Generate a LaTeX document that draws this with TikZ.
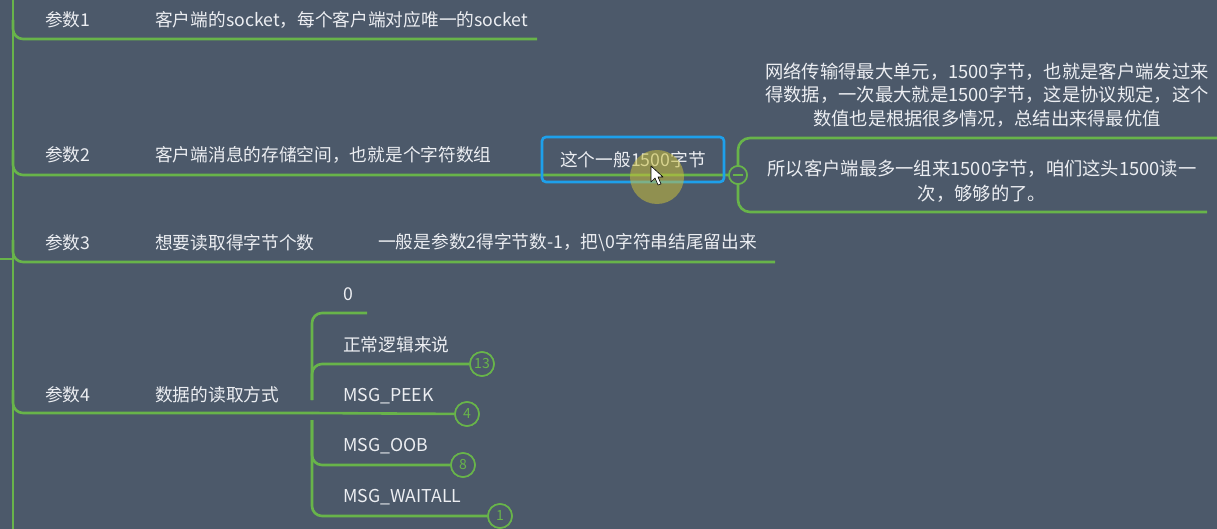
\documentclass[tikz,border=0pt]{standalone}
\usepackage{fontspec}
\setmainfont{Noto Sans CJK SC}
\definecolor{bg}{RGB}{76,89,106}
\definecolor{fg}{RGB}{236,238,242}
\definecolor{gr}{RGB}{104,180,74}
\definecolor{bl}{RGB}{30,160,235}
\definecolor{hl}{RGB}{200,190,60}
\tikzset{
  txt/.style={text=fg, font=\fontsize{17.7}{24}\selectfont, anchor=west, inner sep=0pt},
  br/.style={draw=gr, line width=2.6pt, rounded corners=10pt},
  num/.style={circle, draw=gr, line width=1.6pt, fill=bg, minimum size=24pt, inner sep=0pt, text=gr, font=\fontsize{14}{14}\selectfont},
  selbox/.style={draw=bl, line width=2.6pt, rounded corners=4pt, minimum width=182pt, minimum height=45pt, inner sep=0pt, text=fg, font=\fontsize{17.7}{24}\selectfont}
}
\begin{document}
\begin{tikzpicture}[x=1pt,y=-1pt]
\fill[bg] (0,0) rectangle (1217,529);
\useasboundingbox (0,0) rectangle (1217,529);

% root trunk
\coordinate (top) at (13,0);
\coordinate (bot) at (13,529);
\coordinate (stub) at (0,259);
\coordinate (stubend) at (13,259);
\draw[br] (top) -- (bot);
\draw[br] (stub) -- (stubend);

% 参数1
\coordinate (e1) at (537,39);
\draw[br] (13,20) |- (e1);
\node[txt] (p1) at (45,20) {参数1};
\node[txt] (c1) at (155,20) {客户端的socket，每个客户端对应唯一的socket};

% 参数2
\node[circle, draw=gr, line width=1.6pt, fill=bg, minimum size=18pt, inner sep=0pt] (col) at (738,175) {};
\draw[br, rounded corners=12pt] (1217,138) -- (738,138) -- (738,212) -- (1207,212);
\draw[br] (13,150) |- (col);
\node[circle, draw=gr, line width=1.6pt, fill=bg, minimum size=18pt, inner sep=0pt] (col2) at (738,175) {};
\draw[gr, line width=1.4pt] ([xshift=-5pt]col2.center) -- ([xshift=5pt]col2.center);
\node[txt] (p2) at (45,155) {参数2};
\node[txt] (c2) at (155,155) {客户端消息的存储空间，也就是个字符数组};
\node[selbox] (box) at (633,159.5) {这个一般1500字节};
\node[text=fg, font=\fontsize{18.3}{23.5}\selectfont, align=center, inner sep=0pt] (t1) at (987,95)
  {网络传输得最大单元，1500字节，也就是客户端发过来\\得数据，一次最大就是1500字节，这是协议规定，这个\\数值也是根据很多情况，总结出来得最优值};
\node[text=fg, font=\fontsize{18.3}{25}\selectfont, align=center, inner sep=0pt] (t2) at (982,181)
  {所以客户端最多一组来1500字节，咱们这头1500读一\\次，够够的了。};

% 参数3
\coordinate (e3) at (775,262);
\draw[br] (13,240) |- (e3);
\node[txt] (p3) at (45,243) {参数3};
\node[txt] (c3) at (155,243) {想要读取得字节个数};
\node[txt] (d3) at (378,243) {一般是参数2得字节数-1，把\textbackslash0字符串结尾留出来};

% 参数4
\coordinate (sv) at (312,413);
\draw[br] (13,390) |- (sv);
\node[txt] (p4) at (45,395) {参数4};
\node[txt] (c4) at (155,395) {数据的读取方式};

\coordinate (e40) at (367,313);
\node[num] (n13) at (482,364) {13};
\node[num] (n4) at (467,414) {4};
\node[num] (n8) at (463,465) {8};
\node[num] (n1) at (500,516) {1};
\draw[br] (312,400) |- (e40);
\draw[br] (312,400) |- (n13);
\draw[br] (sv) -- (n4);
\draw[br] (312,420) |- (n8);
\draw[br] (312,420) |- (n1);
\node[num] at (n13) {13};
\node[num] at (n4) {4};
\node[num] at (n8) {8};
\node[num] at (n1) {1};

\node[txt] (k0) at (343,294) {0};
\node[txt] (k1) at (343,345) {正常逻辑来说};
\node[txt] (k2) at (343,396) {MSG\_PEEK};
\node[txt] (k3) at (343,446) {MSG\_OOB};
\node[txt] (k4) at (343,497) {MSG\_WAITALL};

% pointer highlight
\fill[hl, opacity=0.55] (657,177) circle (27);
\draw[black, line width=0.6pt, fill=white, line join=round]
  (651,166) -- (651,182) -- (655,178) -- (658,185) -- (661,184) -- (658,177) -- (663,177) -- cycle;
\end{tikzpicture}
\end{document}
